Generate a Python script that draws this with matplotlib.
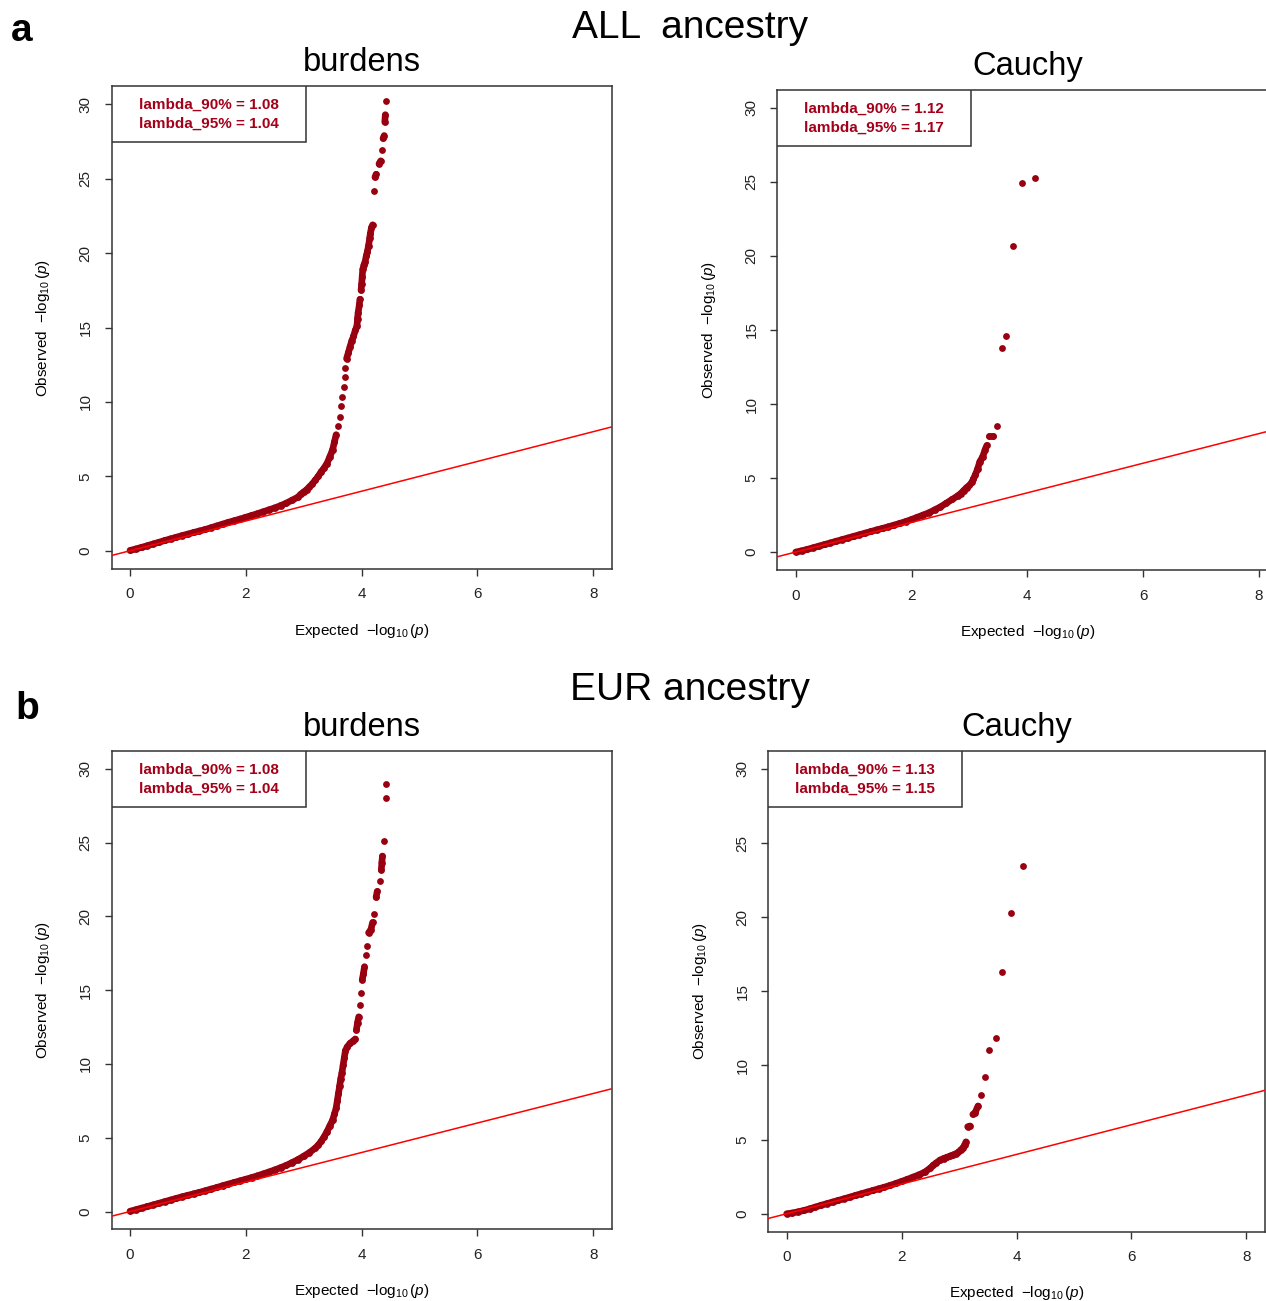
import matplotlib.pyplot as plt
from matplotlib.patches import Rectangle
from matplotlib.collections import LineCollection

plt.rcParams['font.family'] = ['Liberation Sans', 'DejaVu Sans']
plt.rcParams['mathtext.fontset'] = 'custom'
plt.rcParams['mathtext.rm'] = 'Liberation Sans'
plt.rcParams['mathtext.it'] = 'Liberation Sans:italic'

# ---- data (expected, observed -log10 p) ----
all_burden_x = [0.0, 0.1, 0.2, 0.3, 0.4, 0.5, 0.6, 0.7, 0.8, 0.9, 1.0, 1.1, 1.2, 1.3,
                1.4, 1.5, 1.6, 1.7, 1.8, 1.9, 2.0, 2.1, 2.2, 2.3, 2.4, 2.5, 2.6, 2.7,
                2.8, 2.9, 2.95, 3.0, 3.05, 3.1, 3.15, 3.2, 3.25, 3.3, 3.35, 3.4, 3.45,
                3.5, 3.53, 3.56, 3.59, 3.62, 3.65, 3.67, 3.69, 3.71, 3.72, 3.74, 3.77,
                3.80, 3.83, 3.86, 3.89, 3.92, 3.93, 3.94, 3.96, 3.97, 3.99, 4.0, 4.01,
                4.02, 4.04, 4.06, 4.08, 4.10, 4.12, 4.14, 4.15, 4.17, 4.19, 4.21, 4.23,
                4.25, 4.30, 4.33, 4.36, 4.37, 4.39, 4.40, 4.41, 4.43]
all_burden_y = [0.02, 0.12, 0.23, 0.34, 0.46, 0.57, 0.69, 0.80, 0.91, 1.02, 1.12, 1.23,
                1.33, 1.43, 1.55, 1.67, 1.79, 1.91, 2.02, 2.13, 2.25, 2.37, 2.49, 2.62,
                2.75, 2.88, 3.03, 3.2, 3.4, 3.6, 3.8, 3.95, 4.1, 4.3, 4.5, 4.75, 5.0,
                5.3, 5.55, 5.85, 6.3, 6.8, 7.3, 7.8, 8.4, 9.0, 9.7, 10.3, 11.0, 11.7,
                12.3, 12.9, 13.3, 13.7, 14.1, 14.4, 14.8, 15.1, 15.6, 16.0, 16.5, 16.9,
                17.5, 17.9, 18.4, 18.9, 19.2, 19.4, 19.8, 20.1, 20.5, 21.0, 21.3, 21.7,
                21.9, 24.2, 25.1, 25.3, 26.0, 26.2, 26.9, 27.7, 27.9, 28.8, 29.3, 30.2]

all_cauchy_x = [0.0, 0.1, 0.2, 0.3, 0.4, 0.5, 0.6, 0.7, 0.8, 0.9, 1.0, 1.1, 1.2, 1.3,
                1.4, 1.5, 1.6, 1.7, 1.8, 1.9, 2.0, 2.1, 2.2, 2.3, 2.4, 2.5, 2.6, 2.7,
                2.8, 2.85, 2.9, 2.95, 3.0, 3.04, 3.07, 3.1, 3.14, 3.18, 3.23, 3.27,
                3.30, 3.34, 3.41, 3.48, 3.56, 3.64, 3.75, 3.90, 4.13]
all_cauchy_y = [0.0, 0.08, 0.18, 0.29, 0.40, 0.51, 0.62, 0.73, 0.84, 0.95, 1.06, 1.17,
                1.28, 1.39, 1.50, 1.60, 1.71, 1.82, 1.94, 2.06, 2.2, 2.35, 2.5, 2.65,
                2.85, 3.05, 3.3, 3.55, 3.8, 3.95, 4.15, 4.35, 4.5, 4.7, 4.95, 5.2, 5.6,
                6.1, 6.45, 6.9, 7.2, 7.85, 7.85, 8.5, 13.8, 14.6, 20.7, 24.9, 25.3]

eur_burden_x = [0.0, 0.1, 0.2, 0.3, 0.4, 0.5, 0.6, 0.7, 0.8, 0.9, 1.0, 1.1, 1.2, 1.3,
                1.4, 1.5, 1.6, 1.7, 1.8, 1.9, 2.0, 2.1, 2.2, 2.3, 2.4, 2.5, 2.6, 2.7,
                2.8, 2.9, 3.0, 3.1, 3.2, 3.25, 3.3, 3.35, 3.4, 3.45, 3.5, 3.53, 3.56,
                3.58, 3.6, 3.62, 3.64, 3.66, 3.68, 3.70, 3.72, 3.75, 3.80, 3.85, 3.89,
                3.91, 3.93, 3.95, 3.97, 3.99, 4.01, 4.03, 4.05, 4.07, 4.09, 4.12, 4.16,
                4.19, 4.22, 4.25, 4.27, 4.32, 4.34, 4.35, 4.36, 4.39, 4.42, 4.42]
eur_burden_y = [0.02, 0.12, 0.23, 0.34, 0.45, 0.56, 0.67, 0.78, 0.89, 1.00, 1.10, 1.20,
                1.30, 1.41, 1.52, 1.63, 1.75, 1.86, 1.97, 2.08, 2.19, 2.30, 2.42, 2.55,
                2.68, 2.82, 2.97, 3.13, 3.32, 3.52, 3.75, 4.0, 4.3, 4.5, 4.75, 5.05,
                5.4, 5.8, 6.2, 6.6, 7.0, 7.5, 8.0, 8.5, 9.0, 9.4, 9.9, 10.4, 10.9,
                11.15, 11.4, 11.55, 11.7, 12.3, 12.8, 13.2, 14.0, 14.8, 15.7, 16.1,
                16.6, 17.4, 18.0, 18.9, 19.1, 19.6, 20.2, 21.3, 21.7, 22.4, 23.15,
                23.65, 24.1, 25.1, 28.0, 29.0]

eur_cauchy_x = [0.0, 0.1, 0.2, 0.3, 0.4, 0.5, 0.6, 0.7, 0.8, 0.9, 1.0, 1.1, 1.2, 1.3,
                1.4, 1.5, 1.6, 1.7, 1.8, 1.9, 2.0, 2.1, 2.2, 2.3, 2.4, 2.5, 2.55, 2.6,
                2.67, 2.73, 2.79, 2.85, 2.9, 2.95, 2.99, 3.03, 3.07, 3.10, 3.12, 3.15,
                3.19, 3.24, 3.28, 3.33, 3.39, 3.45, 3.52, 3.64, 3.75, 3.90, 4.12]
eur_cauchy_y = [0.0, 0.05, 0.13, 0.22, 0.33, 0.45, 0.57, 0.68, 0.79, 0.90, 1.01, 1.12,
                1.24, 1.35, 1.46, 1.57, 1.68, 1.79, 1.91, 2.04, 2.18, 2.32, 2.47, 2.62,
                2.80, 3.08, 3.27, 3.42, 3.62, 3.72, 3.81, 3.9, 3.97, 4.05, 4.15, 4.3,
                4.45, 4.65, 4.85, 5.87, 5.92, 6.7, 6.82, 7.27, 8.0, 9.22, 11.05, 11.86,
                16.3, 20.3, 23.44]

panel_titles = ['burdens', 'Cauchy', 'burdens', 'Cauchy']
lambda_90 = ['1.08', '1.12', '1.08', '1.13']
lambda_95 = ['1.04', '1.17', '1.04', '1.15']
x_ticks = [0, 2, 4, 6, 8]
y_ticks = [0, 5, 10, 15, 20, 25, 30]

# ---- layout (pixels) ----
W, H = 1266, 1301
DOT = '#990010'
TXT = '#A3001A'
INK = '#333333'
XLIM = (-0.32, 8.32)
YLIM = (-1.2, 31.2)

# left, top, right, bottom of each plot box
boxes = [(111.5, 86.4, 611.7, 568.6),
         (777.2, 90.2, 1277.4, 569.8),
         (111.5, 751.3, 611.7, 1229.2),
         (768.3, 751.2, 1264.7, 1231.5)]

series = [(all_burden_x, all_burden_y), (all_cauchy_x, all_cauchy_y),
          (eur_burden_x, eur_burden_y), (eur_cauchy_x, eur_cauchy_y)]

fig = plt.figure(figsize=(W / 100, H / 100), dpi=100)

for i, (l, t, r, b) in enumerate(boxes):
    w_px, h_px = r - l, b - t
    ax = fig.add_axes([l / W, 1 - b / H, w_px / W, h_px / H])
    xs, ys = series[i]

    # overlapping points merge into a solid band where they are close together
    sx = w_px / (XLIM[1] - XLIM[0])
    sy = h_px / (YLIM[1] - YLIM[0])
    segs = []
    for j in range(len(xs) - 1):
        gap = ((xs[j + 1] - xs[j]) * sx) ** 2 + ((ys[j + 1] - ys[j]) * sy) ** 2
        if gap < 8 ** 2:
            segs.append([(xs[j], ys[j]), (xs[j + 1], ys[j + 1])])
    ax.add_collection(LineCollection(segs, colors=DOT, linewidths=4.8,
                                     capstyle='round', zorder=2))
    ax.plot(xs, ys, 'o', ms=4.9, mfc=DOT, mec='none', zorder=2)
    ax.axline((0, 0), slope=1, color='red', lw=1.1, zorder=3)

    ax.set_xlim(*XLIM)
    ax.set_ylim(*YLIM)
    ax.set_xticks(x_ticks)
    ax.set_yticks(y_ticks)
    ax.tick_params(direction='out', length=5, width=1, color=INK,
                   labelsize=11, labelcolor='#222222', pad=8.5)
    ax.tick_params(axis='y', labelrotation=90)
    for lab in ax.get_yticklabels():
        lab.set_va('center')
    for sp in ax.spines.values():
        sp.set_color(INK)
        sp.set_linewidth(1.1)

    ax.set_xlabel(r'Expected  $-\log_{10}(\mathit{p})$', fontsize=11)
    ax.set_ylabel(r'Observed  $-\log_{10}(\mathit{p})$', fontsize=11)
    ax.xaxis.set_label_coords(0.5, -62 / h_px)
    ax.xaxis.label.set_va('center')
    ax.yaxis.set_label_coords(-68 / w_px, 0.5)
    ax.yaxis.label.set_va('center')

    ax.text(0.5, 1 + 15 / h_px, panel_titles[i], transform=ax.transAxes,
            ha='center', va='baseline', fontsize=23.5)

    # lambda box in the top-left corner
    bw, bh = 194 / w_px, 55.5 / h_px
    ax.add_patch(Rectangle((0, 1 - bh), bw, bh, transform=ax.transAxes,
                           fc='white', ec=INK, lw=1.1, zorder=4))
    ax.text(bw / 2, 1 - 18.8 / h_px, f'lambda_90% = {lambda_90[i]}',
            transform=ax.transAxes, ha='center', va='center',
            fontsize=11, fontweight='bold', color=TXT, zorder=5)
    ax.text(bw / 2, 1 - 37.6 / h_px, f'lambda_95% = {lambda_95[i]}',
            transform=ax.transAxes, ha='center', va='center',
            fontsize=11, fontweight='bold', color=TXT, zorder=5)

fig.text(690 / W, 1 - 38 / H, 'ALL  ancestry', ha='center', va='baseline', fontsize=28)
fig.text(690 / W, 1 - 700 / H, 'EUR ancestry', ha='center', va='baseline', fontsize=28)
fig.text(22 / W, 1 - 41 / H, 'a', ha='center', va='baseline', fontsize=28, fontweight='bold')
fig.text(27 / W, 1 - 719 / H, 'b', ha='center', va='baseline', fontsize=28, fontweight='bold')

fig.savefig('out.png', dpi=100)
